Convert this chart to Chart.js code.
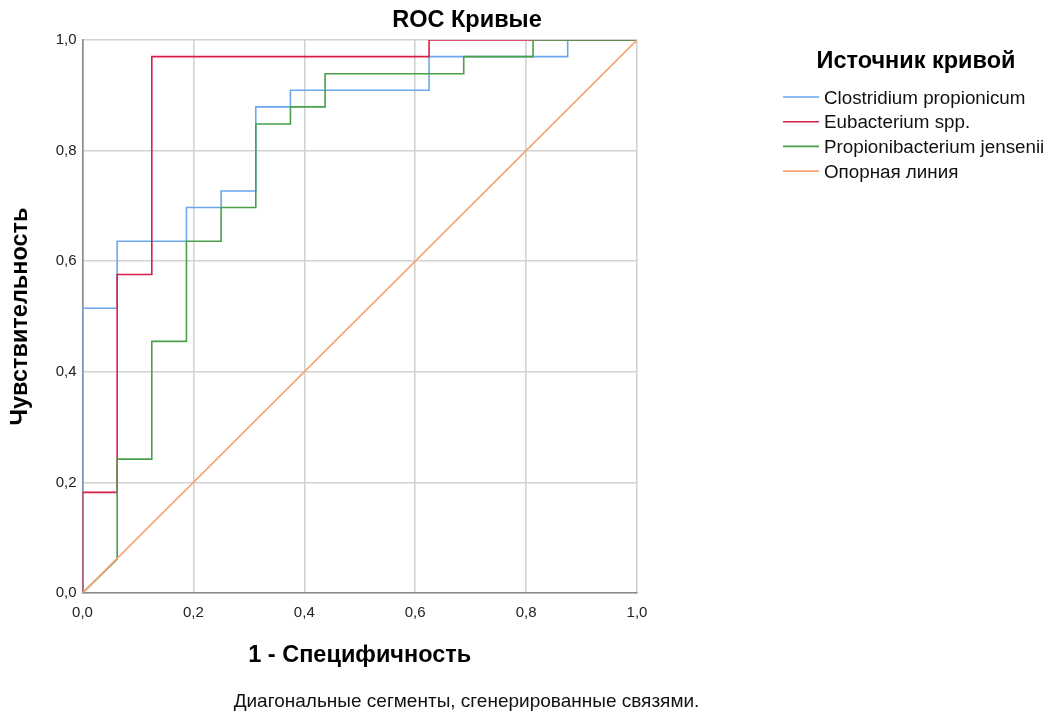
<!DOCTYPE html>
<html>
<head>
<meta charset="utf-8">
<script src="https://cdn.jsdelivr.net/npm/chart.js@4/dist/chart.umd.min.js"></script>
<style>
  html, body { margin: 0; padding: 0; background: #fff; }
  #wrap { width: 1058px; height: 713px; position: relative; }
</style>
</head>
<body>
<div id="wrap"><canvas id="chart"></canvas></div>
<script>
// 1 - specificity / sensitivity
const clostridiumX = [0, 0, 0.0625, 0.0625, 0.1875, 0.1875, 0.25, 0.25, 0.3125, 0.3125, 0.375, 0.375, 0.625, 0.625, 0.875, 0.875, 1];
const clostridiumY = [0, 0.515, 0.515, 0.636, 0.636, 0.697, 0.697, 0.727, 0.727, 0.879, 0.879, 0.909, 0.909, 0.970, 0.970, 1, 1];

const eubacteriumX = [0, 0, 0.0625, 0.0625, 0.125, 0.125, 0.625, 0.625, 1];
const eubacteriumY = [0, 0.182, 0.182, 0.576, 0.576, 0.970, 0.970, 1, 1];

const propioniX = [0, 0.0625, 0.0625, 0.125, 0.125, 0.1875, 0.1875, 0.25, 0.25, 0.3125, 0.3125, 0.375, 0.375, 0.4375, 0.4375, 0.6875, 0.6875, 0.8125, 0.8125, 1];
const propioniY = [0, 0.061, 0.242, 0.242, 0.455, 0.455, 0.636, 0.636, 0.697, 0.697, 0.848, 0.848, 0.879, 0.879, 0.939, 0.939, 0.970, 0.970, 1, 1];

const referenceX = [0, 1];
const referenceY = [0, 1];

const seriesNames = ['Clostridium propionicum', 'Eubacterium spp.', 'Propionibacterium jensenii', 'Опорная линия'];
const seriesColors = ['#6aa8ee', '#d81f48', '#48a048', '#f7a377'];
const tickValues = [0, 0.2, 0.4, 0.6, 0.8, 1];

const FONT = '"Liberation Sans", Arial, sans-serif';

function toPoints(xs, ys) {
    const pts = [];
    for (let i = 0; i < xs.length; i++) {
        pts.push({ x: xs[i], y: ys[i] });
    }
    return pts;
}

function commaLabel(v) {
    return v.toFixed(1).replace('.', ',');
}

const allSeries = [
    toPoints(clostridiumX, clostridiumY),
    toPoints(eubacteriumX, eubacteriumY),
    toPoints(propioniX, propioniY),
    toPoints(referenceX, referenceY)
];

// draws titles, legend and footnote around the plot
const decorations = {
    id: 'decorations',
    afterDraw(chart) {
        const ctx = chart.ctx;
        const area = chart.chartArea;
        ctx.save();
        ctx.fillStyle = '#000';
        ctx.textBaseline = 'middle';
        ctx.textAlign = 'center';

        ctx.font = 'bold 23.5px ' + FONT;
        ctx.fillText('ROC Кривые', 467, 21);

        ctx.fillText('1 - Специфичность', (area.left + area.right) / 2, 656);

        ctx.save();
        ctx.translate(21, (area.top + area.bottom) / 2);
        ctx.rotate(-Math.PI / 2);
        ctx.fillText('Чувствительность', 0, 0);
        ctx.restore();

        ctx.fillText('Источник кривой', 916, 62);

        ctx.fillStyle = '#111';
        ctx.font = '19px ' + FONT;
        ctx.fillText('Диагональные сегменты, сгенерированные связями.', 466.5, 702);

        ctx.textAlign = 'left';
        for (let i = 0; i < seriesNames.length; i++) {
            const y = 97 + i * 24.7;
            ctx.strokeStyle = seriesColors[i];
            ctx.lineWidth = 1.6;
            ctx.beginPath();
            ctx.moveTo(783, y);
            ctx.lineTo(819, y);
            ctx.stroke();
            ctx.fillStyle = '#111';
            ctx.font = '18.8px ' + FONT;
            ctx.fillText(seriesNames[i], 824, y + 1.5);
        }
        ctx.restore();
    }
};

const datasets = [];
for (let i = 0; i < allSeries.length; i++) {
    datasets.push({
        label: seriesNames[i],
        data: allSeries[i],
        showLine: true,
        borderColor: seriesColors[i],
        borderWidth: 1.6,
        pointRadius: 0,
        fill: false,
        tension: 0,
        order: i === 3 ? 0 : 3 - i
    });
}

new Chart(document.getElementById('chart'), {
    type: 'scatter',
    data: { datasets: datasets },
    plugins: [decorations],
    options: {
        responsive: true,
        maintainAspectRatio: false,
        animation: false,
        layout: { padding: { left: 0, top: 40, right: 421, bottom: 0 } },
        plugins: {
            legend: { display: false },
            tooltip: { enabled: false }
        },
        scales: {
            x: {
                type: 'linear',
                min: 0,
                max: 1,
                afterBuildTicks: s => { s.ticks = tickValues.map(v => ({ value: v })); },
                afterFit: s => { s.height = 120; },
                grid: { color: '#d2d2d2', lineWidth: 1.6, drawTicks: false },
                border: { color: '#8a8a8a', width: 1.6 },
                ticks: { callback: commaLabel, color: '#222', font: { family: FONT, size: 15 }, padding: 11, maxRotation: 0 }
            },
            y: {
                type: 'linear',
                min: 0,
                max: 1,
                afterBuildTicks: s => { s.ticks = tickValues.map(v => ({ value: v })); },
                afterFit: s => { s.width = 82.5; },
                grid: { color: '#d2d2d2', lineWidth: 1.6, drawTicks: false },
                border: { color: '#8a8a8a', width: 1.6 },
                ticks: { callback: commaLabel, color: '#222', font: { family: FONT, size: 15 }, padding: 6 }
            }
        }
    }
});
</script>
</body>
</html>
